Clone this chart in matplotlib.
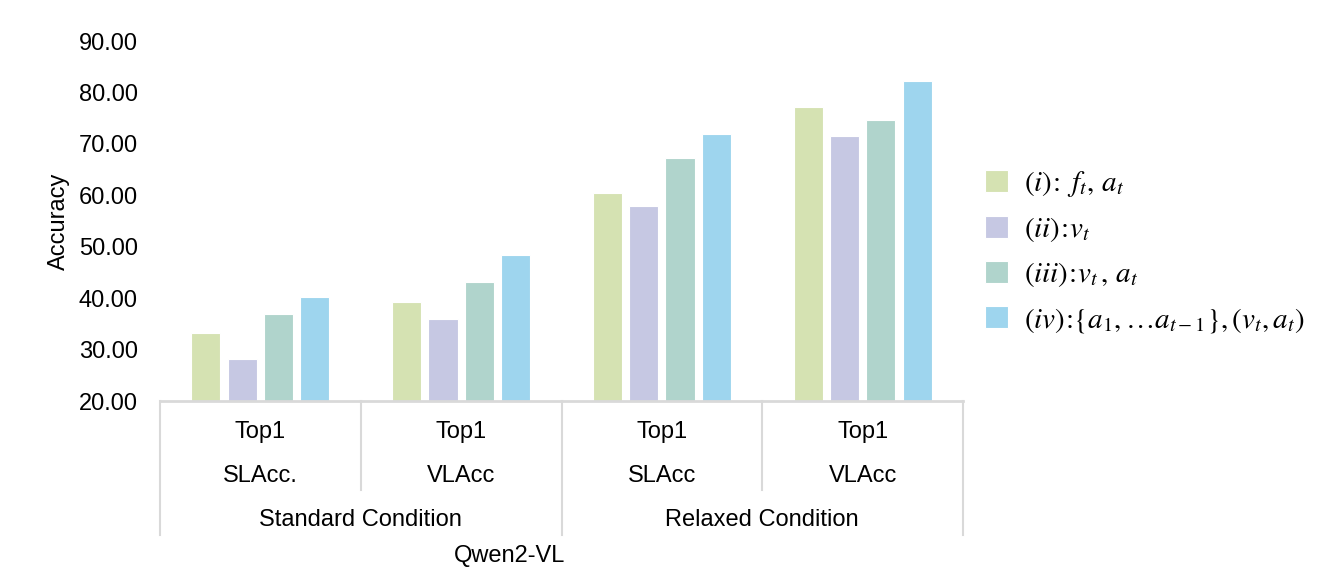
import matplotlib
matplotlib.use("Agg")
import matplotlib.pyplot as plt
import matplotlib.transforms as mtransforms
import numpy as np

plt.rcParams['font.family'] = ['Liberation Sans', 'DejaVu Sans']
plt.rcParams['mathtext.fontset'] = 'stix'

metrics = ["SLAcc.", "VLAcc", "SLAcc", "VLAcc"]
levels = ["Top1", "Top1", "Top1", "Top1"]
conditions = ["Standard Condition", "Relaxed Condition"]
model = "Qwen2-VL"
series_labels = [r"$(i)\!:\ f_t,\, a_t$",
                 r"$(ii)\!:\!v_t$",
                 r"$(iii)\!:\!v_t\,,\,a_t$",
                 r"$(iv)\!:\!\{a_1,\ldots a_{t-1}\},(v_t,a_t)$"]
s1 = [33.3, 39.2, 60.4, 77.1]
s2 = [28.1, 35.9, 58.0, 71.5]
s3 = [36.9, 43.1, 67.3, 74.7]
s4 = [40.3, 48.3, 71.9, 82.3]
series = [s1, s2, s3, s4]
colors = ["#D5E2B2", "#C6C8E3", "#B0D4CC", "#9ED5EE"]

W, H = 1328, 586
fig = plt.figure(figsize=(W / 100, H / 100), dpi=100)
left, right, top, bottom = 160, 963, 41, 401
ax = fig.add_axes([left / W, (H - bottom) / H, (right - left) / W, (bottom - top) / H])

x = np.arange(len(metrics))
step = 0.181
width = 0.145
for k, (vals, c, lab) in enumerate(zip(series, colors, series_labels)):
    ax.bar(x + (k - 1.5) * step, np.array(vals) - 20, bottom=20, width=width,
           color=c, edgecolor="white", linewidth=0.8, label=lab, zorder=2)

ax.set_xlim(-0.5, 3.5)
ax.set_ylim(20, 90)
ax.set_yticks(np.arange(20, 91, 10))
ax.set_yticklabels([f"{v:.2f}" for v in np.arange(20, 91, 10)], fontsize=17)
ax.tick_params(axis='y', length=0, pad=16)
ax.set_xticks([])
for s in ["left", "right", "top"]:
    ax.spines[s].set_visible(False)
ax.spines["bottom"].set_color("#D9D9D9")
ax.spines["bottom"].set_linewidth(2)
ax.set_ylabel("Accuracy", fontsize=17, labelpad=6)

trans = mtransforms.blended_transform_factory(ax.transData, ax.transAxes)
gray = "#D9D9D9"
inner_bottom = -(490 - bottom) / (bottom - top)
outer_bottom = -(535 - bottom) / (bottom - top)
for xb in [-0.5, 1.5, 3.5]:
    ax.plot([xb, xb], [0, outer_bottom], color=gray, lw=1.5, transform=trans, clip_on=False)
for xb in [0.5, 2.5]:
    ax.plot([xb, xb], [0, inner_bottom], color=gray, lw=1.5, transform=trans, clip_on=False)

def ay(py):
    return -(py - bottom) / (bottom - top)

for i in range(len(metrics)):
    ax.text(x[i], ay(432), levels[i], transform=trans, ha='center', va='center', fontsize=17)
    ax.text(x[i], ay(476), metrics[i], transform=trans, ha='center', va='center', fontsize=17)
for j, cond in enumerate(conditions):
    ax.text(0.5 + 2 * j, ay(520), cond, transform=trans, ha='center', va='center', fontsize=17)
fig.text(510 / W, (H - 556) / H, model, ha='center', va='center', fontsize=17)

fig.legend(loc='center left', bbox_to_anchor=(973 / W, (H - 252) / H), frameon=False,
           fontsize=21, handlelength=0.8, handleheight=0.8, handletextpad=0.55,
           labelspacing=0.55, borderaxespad=0)

fig.savefig("out.png", dpi=100)
